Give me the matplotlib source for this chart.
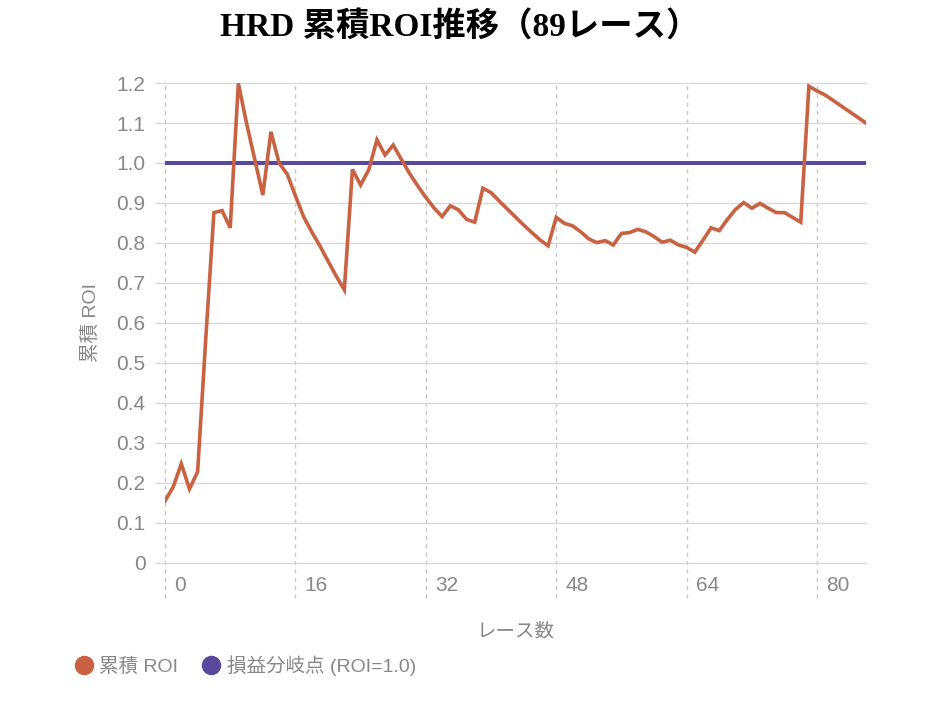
import matplotlib
matplotlib.use("Agg")
import matplotlib.pyplot as plt
import matplotlib.transforms as mtransforms
from matplotlib.lines import Line2D

plt.rcParams['font.family'] = ['Liberation Sans', 'Noto Sans CJK JP', 'DejaVu Sans']

# -------- DATA --------
roi = [0.155, 0.19, 0.248, 0.185, 0.228, 0.56, 0.876, 0.881, 0.838, 1.199,
       1.10, 1.01, 0.92, 1.078, 1.0, 0.972, 0.918, 0.866, 0.828, 0.793,
       0.755, 0.7175, 0.683, 0.984, 0.945, 0.983, 1.058, 1.02, 1.045, 1.009,
       0.974, 0.943, 0.914, 0.888, 0.866, 0.893, 0.883, 0.859, 0.852, 0.937,
       0.926, 0.905, 0.885, 0.865, 0.845, 0.826, 0.808, 0.793, 0.864, 0.849,
       0.843, 0.828, 0.81, 0.801, 0.806, 0.795, 0.824, 0.826, 0.834, 0.828,
       0.816, 0.802, 0.807, 0.795, 0.789, 0.777, 0.807, 0.838, 0.831, 0.859,
       0.884, 0.901, 0.887, 0.899, 0.887, 0.876, 0.876, 0.864, 0.852, 1.192,
       1.18, 1.17, 1.156, 1.142, 1.128, 1.114, 1.10]
races = list(range(len(roi)))
breakeven = [1.0] * len(roi)

x_ticks = [0, 16, 32, 48, 64, 80]
y_ticks = [0, 0.1, 0.2, 0.3, 0.4, 0.5, 0.6, 0.7, 0.8, 0.9, 1.0, 1.1, 1.2]
y_labels = ['0', '0.1', '0.2', '0.3', '0.4', '0.5', '0.6', '0.7', '0.8', '0.9', '1.0', '1.1', '1.2']

ROI_COLOR = '#C86242'
BE_COLOR = '#58489E'
TEXT_COLOR = '#888888'

# -------- PLOT --------
fig = plt.figure(figsize=(9.38, 7.04), dpi=100)
ax = fig.add_axes([0.1759, 0.2003, 0.7473, 0.6818])

ax.plot(races, roi, color=ROI_COLOR, linewidth=2.6, solid_joinstyle='miter', zorder=3)
ax.plot(races, breakeven, color=BE_COLOR, linewidth=2.9, zorder=2)

ax.set_xlim(0, len(roi) - 1)
ax.set_ylim(0, 1.2)

# horizontal grid
ax.set_yticks(y_ticks)
ax.set_yticklabels(y_labels)
ax.grid(axis='y', color='#d9d9d9', linewidth=1.0)
for gl in ax.get_ygridlines():
    gl.set_clip_on(False)

# vertical dashed grid, running below the axis, labels just right of it
ax.set_xticks(x_ticks)
ax.set_xticklabels([])
label_tf = mtransforms.blended_transform_factory(ax.transData, ax.transAxes) + \
    mtransforms.ScaledTranslation(9 / 100, 0, fig.dpi_scale_trans)
for xt in x_ticks:
    ax.axvline(xt, ymin=-0.072, ymax=1, color='#c8c8c8', linewidth=1.0,
               linestyle=(0, (3, 3)), clip_on=False, zorder=1)
    ax.text(xt, -0.047, str(xt), transform=label_tf, ha='left', va='center',
            fontsize=15, color=TEXT_COLOR)

ax.tick_params(axis='x', length=0)
ax.tick_params(axis='y', length=7, width=1.0, color='#d9d9d9', pad=7,
               labelsize=15, labelcolor=TEXT_COLOR)

for s in ax.spines.values():
    s.set_visible(False)

ax.set_xlabel('レース数', fontsize=14, color=TEXT_COLOR, labelpad=40)
ax.set_ylabel('累積 ROI', fontsize=14, color=TEXT_COLOR, labelpad=12)

fig.suptitle('HRD 累積ROI推移（89レース）', x=0.49, y=0.985, fontsize=24,
             fontweight='bold', family=['Liberation Serif', 'Noto Sans CJK JP'])

handles = [
    Line2D([], [], marker='o', linestyle='none', markersize=13,
           markerfacecolor=ROI_COLOR, markeredgecolor=ROI_COLOR, label='累積 ROI'),
    Line2D([], [], marker='o', linestyle='none', markersize=13,
           markerfacecolor=BE_COLOR, markeredgecolor=BE_COLOR, label='損益分岐点 (ROI=1.0)'),
]
leg = fig.legend(handles=handles, loc='center left', bbox_to_anchor=(0.06, 0.055),
                 ncol=2, frameon=False, fontsize=14, handletextpad=0.3,
                 columnspacing=1.2, handlelength=1.0)
for t in leg.get_texts():
    t.set_color(TEXT_COLOR)

fig.savefig('out.png', dpi=100)
